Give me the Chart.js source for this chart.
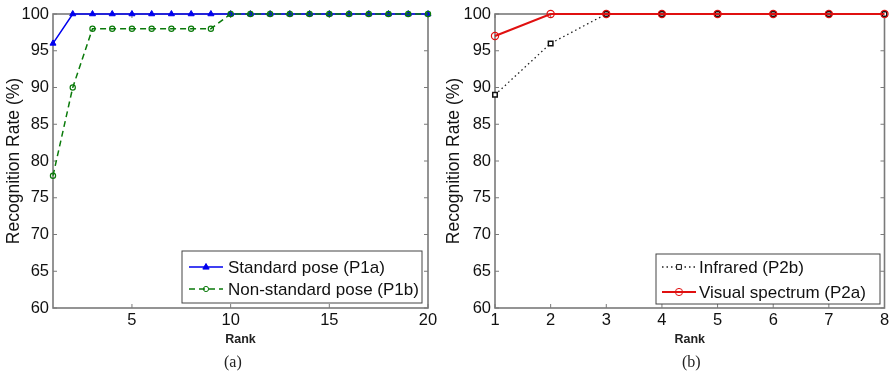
<!DOCTYPE html>
<html>
<head>
<meta charset="utf-8">
<script src="https://cdn.jsdelivr.net/npm/chart.js@4.4.1/dist/chart.umd.min.js"></script>
<style>
body { margin: 0; background: #fff; width: 890px; height: 377px; overflow: hidden; position: relative; }
.panel { position: absolute; top: 0; width: 445px; height: 377px; }
.cap { position: absolute; top: 353px; font: 16px "Liberation Serif", "Times New Roman", serif; color: #222; }
</style>
</head>
<body>
<div class="panel" style="left:0"><canvas id="chartA" width="445" height="377"></canvas></div>
<div class="panel" style="left:445px"><canvas id="chartB" width="445" height="377"></canvas></div>
<div class="cap" style="left:224px">(a)</div>
<div class="cap" style="left:682px">(b)</div>
<script>
// panel (a)
const ranksA = [1, 2, 3, 4, 5, 6, 7, 8, 9, 10, 11, 12, 13, 14, 15, 16, 17, 18, 19, 20];
const standardPose = [96, 100, 100, 100, 100, 100, 100, 100, 100, 100, 100, 100, 100, 100, 100, 100, 100, 100, 100, 100];
const nonStandardPose = [78, 90, 98, 98, 98, 98, 98, 98, 98, 100, 100, 100, 100, 100, 100, 100, 100, 100, 100, 100];
const xTicksA = [5, 10, 15, 20];

// panel (b)
const ranksB = [1, 2, 3, 4, 5, 6, 7, 8];
const infrared = [89, 96, 100, 100, 100, 100, 100, 100];
const visualSpectrum = [97, 100, 100, 100, 100, 100, 100, 100];
const xTicksB = [1, 2, 3, 4, 5, 6, 7, 8];

const yTicks = [60, 65, 70, 75, 80, 85, 90, 95, 100];

const FONT = '"Liberation Sans", Arial, sans-serif';

function pts(xs, ys) {
    return xs.map((x, i) => ({ x: x, y: ys[i] }));
}

// matlab style box with inward ticks
const matlabAxes = {
    id: 'matlabAxes',
    beforeDatasetsDraw(chart) {
        const { ctx, chartArea: a, scales: { x, y } } = chart;
        ctx.save();
        ctx.strokeStyle = '#7a7a7a';
        ctx.lineWidth = 1;
        ctx.beginPath();
        y.ticks.forEach(t => {
            const py = y.getPixelForValue(t.value);
            ctx.moveTo(a.left, py); ctx.lineTo(a.left + 4, py);
            ctx.moveTo(a.right, py); ctx.lineTo(a.right - 4, py);
        });
        x.ticks.forEach(t => {
            const px = x.getPixelForValue(t.value);
            ctx.moveTo(px, a.bottom); ctx.lineTo(px, a.bottom - 4);
            ctx.moveTo(px, a.top); ctx.lineTo(px, a.top + 4);
        });
        ctx.stroke();
        ctx.lineWidth = 1.6;
        ctx.strokeRect(a.left, a.top, a.right - a.left, a.bottom - a.top);
        ctx.restore();
    }
};

function drawMarker(ctx, style, x, y, r) {
    ctx.beginPath();
    if (style === 'triangle') {
        ctx.moveTo(x, y - r);
        ctx.lineTo(x + r * 0.9, y + r * 0.6);
        ctx.lineTo(x - r * 0.9, y + r * 0.6);
        ctx.closePath();
    } else if (style === 'rect') {
        ctx.rect(x - r * 0.75, y - r * 0.75, r * 1.5, r * 1.5);
    } else {
        ctx.arc(x, y, r, 0, Math.PI * 2);
    }
    ctx.fill();
    ctx.stroke();
}

// legend box inside the plot
const boxLegend = {
    id: 'boxLegend',
    afterDraw(chart, args, opts) {
        const ctx = chart.ctx;
        ctx.save();
        ctx.fillStyle = '#fff';
        ctx.fillRect(opts.left, opts.top, opts.width, opts.height);
        ctx.strokeStyle = '#444';
        ctx.lineWidth = 1;
        ctx.strokeRect(opts.left, opts.top, opts.width, opts.height);
        opts.order.forEach((di, row) => {
            const ds = chart.data.datasets[di];
            const y = opts.top + opts.rows[row];
            ctx.strokeStyle = ds.borderColor;
            ctx.lineWidth = ds.borderWidth;
            ctx.setLineDash(ds.borderDash || []);
            ctx.beginPath();
            ctx.moveTo(opts.sampleLeft, y);
            ctx.lineTo(opts.sampleRight, y);
            ctx.stroke();
            ctx.setLineDash([]);
            ctx.lineWidth = 1;
            ctx.strokeStyle = ds.pointBorderColor;
            ctx.fillStyle = ds.pointBackgroundColor;
            drawMarker(ctx, ds.pointStyle, (opts.sampleLeft + opts.sampleRight) / 2, y, ds.pointRadius);
            ctx.fillStyle = '#111';
            ctx.font = '17px ' + FONT;
            ctx.textBaseline = 'middle';
            ctx.fillText(ds.label, opts.textLeft, y + 1);
        });
        ctx.restore();
    }
};

function makeOptions(xMin, xMax, xTicks, yWidth, rightPad, titlePad, legend) {
    return {
        responsive: false,
        animation: false,
        layout: { padding: { left: 0, top: 14, right: rightPad, bottom: 30 } },
        plugins: { legend: { display: false }, tooltip: { enabled: false }, boxLegend: legend },
        scales: {
            x: {
                type: 'linear', min: xMin, max: xMax,
                grid: { display: false, drawTicks: false }, border: { display: false },
                afterBuildTicks: s => { s.ticks = xTicks.map(v => ({ value: v })); },
                afterFit: s => { s.height = 39; s.paddingLeft = 0; s.paddingRight = 0; },
                ticks: { autoSkip: false, maxRotation: 0, padding: 3, color: '#111', font: { family: FONT, size: 16.5 } },
                title: { display: true, text: 'Rank', color: '#222', padding: 0, font: { family: FONT, size: 12.5, weight: 'bold' } }
            },
            y: {
                min: 60, max: 100,
                grid: { display: false, drawTicks: false }, border: { display: false },
                afterBuildTicks: s => { s.ticks = yTicks.map(v => ({ value: v })); },
                afterFit: s => { s.width = yWidth; s.paddingTop = 0; s.paddingBottom = 0; },
                ticks: { padding: 4, color: '#111', font: { family: FONT, size: 16.5 } },
                title: { display: true, text: 'Recognition Rate (%)', color: '#111', padding: { top: titlePad, bottom: 0 }, font: { family: FONT, size: 17.5, lineHeight: 1 } }
            }
        }
    };
}

new Chart(document.getElementById('chartA'), {
    type: 'line',
    data: {
        datasets: [
            {
                label: 'Non-standard pose (P1b)', data: pts(ranksA, nonStandardPose),
                borderColor: '#0a7a0a', borderWidth: 1.5, borderDash: [6, 4],
                pointStyle: 'circle', pointRadius: 2.6, pointBorderWidth: 1.2,
                pointBorderColor: '#0a7a0a', pointBackgroundColor: 'rgba(0,0,0,0)', clip: false
            },
            {
                label: 'Standard pose (P1a)', data: pts(ranksA, standardPose),
                borderColor: '#0000ee', borderWidth: 1.5,
                pointStyle: 'triangle', pointRadius: 3.5, pointBorderWidth: 1,
                pointBorderColor: '#0000ee', pointBackgroundColor: '#0000ee', clip: false
            }
        ]
    },
    options: makeOptions(1, 20, xTicksA, 53, 17, 5, {
        left: 182, top: 251, width: 240, height: 52, rows: [16, 38], order: [1, 0],
        sampleLeft: 189, sampleRight: 223, textLeft: 228
    }),
    plugins: [matlabAxes, boxLegend]
});

new Chart(document.getElementById('chartB'), {
    type: 'line',
    data: {
        datasets: [
            {
                label: 'Visual spectrum (P2a)', data: pts(ranksB, visualSpectrum),
                borderColor: '#e01010', borderWidth: 2,
                pointStyle: 'circle', pointRadius: 3.6, pointBorderWidth: 1.2,
                pointBorderColor: '#e01010', pointBackgroundColor: 'rgba(0,0,0,0)', clip: false
            },
            {
                label: 'Infrared (P2b)', data: pts(ranksB, infrared),
                borderColor: '#222', borderWidth: 1.3, borderDash: [1.5, 3],
                pointStyle: 'rect', pointRadius: 3.2, pointBorderWidth: 1.5,
                pointBorderColor: '#111', pointBackgroundColor: '#fff', clip: false
            }
        ]
    },
    options: makeOptions(1, 8, xTicksB, 50, 5, 0, {
        left: 211, top: 254, width: 224, height: 50, rows: [13, 38], order: [1, 0],
        sampleLeft: 217, sampleRight: 251, textLeft: 254
    }),
    plugins: [matlabAxes, boxLegend]
});
</script>
</body>
</html>
